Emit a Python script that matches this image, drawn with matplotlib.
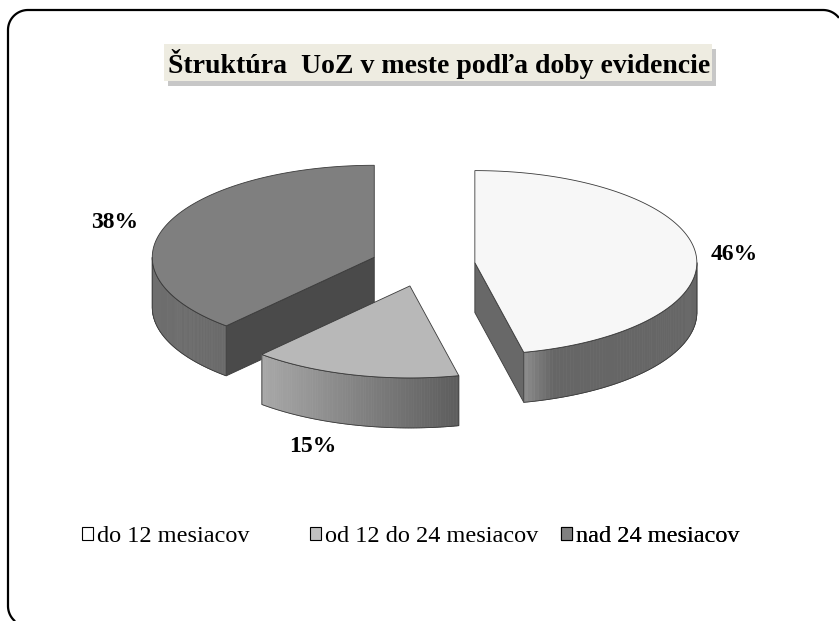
import numpy as np
import matplotlib
matplotlib.use("Agg")
import matplotlib.pyplot as plt
from matplotlib.patches import Polygon, Rectangle, Patch

# data
categories = ["do 12 mesiacov", "od 12 do 24 mesiacov", "nad 24 mesiacov"]
values = [46, 15, 38]
pct_labels = ["46%", "15%", "38%"]
title = "Štruktúra  UoZ v meste podľa doby evidencie"

# styles
top_colors = ["#F7F7F7", "#B8B8B8", "#7F7F7F"]
side_colors = [("#8C8C8C", "#666666"), ("#A8A8A8", "#5C5C5C"), ("#6E6E6E", "#6A6A6A")]
cut_colors = ["#686868", "#6A6A6A", "#4A4A4A"]
legend_colors = ["#FFFFFF", "#C0C0C0", "#808080"]
edge = "#3A3A3A"

plt.rcParams['font.family'] = ['Liberation Serif', 'DejaVu Serif']

fig = plt.figure(figsize=(8.39, 6.21), dpi=100)
ax = fig.add_axes([0, 0, 1, 1])
ax.set_xlim(0, 839)
ax.set_ylim(621, 0)
ax.axis('off')

# pie geometry (pixels)
cx, cy = 423, 265
a, b = 222, 92
depth = 50
explode = 0.235


def pt(ox, oy, th, r=1.0, dz=0.0):
    return (ox + r * a * np.sin(th), oy - r * b * np.cos(th) + dz)


def lerp_col(c1, c2, t):
    c1 = np.array(matplotlib.colors.to_rgb(c1))
    c2 = np.array(matplotlib.colors.to_rgb(c2))
    return tuple(c1 + (c2 - c1) * t)


fr = np.array(values, dtype=float) / sum(values)
ends = np.cumsum(fr) * 2 * np.pi
starts = ends - fr * 2 * np.pi

slices = []
for i in range(len(values)):
    mid = (starts[i] + ends[i]) / 2
    ox, oy = pt(cx, cy, mid, explode)
    slices.append((oy, i, ox))
slices.sort()

for oy, i, ox in slices:
    s, e = starts[i], ends[i]
    # cut faces
    for th, visible in ((s, np.sin(s) < -1e-6), (e, np.sin(e) > 1e-6)):
        if visible:
            p1 = (ox, oy)
            p2 = pt(ox, oy, th)
            face = [p1, p2, (p2[0], p2[1] + depth), (p1[0], p1[1] + depth)]
            ax.add_patch(Polygon(face, closed=True, fc=cut_colors[i], ec=edge, lw=0.6))
    # curved side (front part only)
    lo, hi = max(s, np.pi / 2), min(e, 3 * np.pi / 2)
    if hi > lo:
        th = np.linspace(lo, hi, 80)
        xs = [pt(ox, oy, t)[0] for t in th]
        xmin, xmax = min(xs), max(xs)
        for k in range(len(th) - 1):
            q1, q2 = pt(ox, oy, th[k]), pt(ox, oy, th[k + 1])
            t = ((q1[0] + q2[0]) / 2 - xmin) / max(xmax - xmin, 1)
            if i == 0:
                t = min(1.0, t * 6)
            col = lerp_col(side_colors[i][0], side_colors[i][1], t)
            quad = [q1, q2, (q2[0], q2[1] + depth), (q1[0], q1[1] + depth)]
            ax.add_patch(Polygon(quad, closed=True, fc=col, ec=col, lw=0.5))
        rim = [pt(ox, oy, t) for t in th]
        rim_b = [(x, y + depth) for x, y in rim]
        outline = rim + rim_b[::-1]
        ax.add_patch(Polygon(outline, closed=True, fill=False, ec=edge, lw=0.6))
    # top
    th = np.linspace(s, e, 120)
    top = [(ox, oy)] + [pt(ox, oy, t) for t in th]
    ax.add_patch(Polygon(top, closed=True, fc=top_colors[i], ec=edge, lw=0.6))

# percentage labels
label_pos = [(734, 255), (313, 447), (115, 222)]
for (x, y), txt in zip(label_pos, pct_labels):
    ax.text(x, y, txt, ha='center', va='center', fontsize=17, fontweight='bold')

# title box with shadow
ax.add_patch(Rectangle((168, 49), 548, 37, fc="#9A9A9A", ec='none', alpha=0.55))
ax.add_patch(Rectangle((164, 44), 548, 37, fc="#EEECE1", ec='none'))
ax.text(439, 64, title, ha='center', va='center', fontsize=20, fontweight='bold')

# legend
legend_x = [82, 310, 561]
for x, lab, col in zip(legend_x, categories, legend_colors):
    h = Patch(facecolor=col, edgecolor='black', linewidth=0.8)
    leg = ax.legend(handles=[h], labels=[lab], loc='center left',
                    bbox_to_anchor=(x, 537), bbox_transform=ax.transData,
                    frameon=False, fontsize=17.5, handlelength=0.45, handleheight=0.45,
                    handletextpad=0.15, borderpad=0, borderaxespad=0)
    ax.add_artist(leg)

# outer frame: only the part that lies inside the picture
x0, y0, x1, y1, r = 8, 10, 843, 626, 20
ang_bl = np.linspace(np.pi / 2, np.pi, 30)      # bottom-left corner
ang_tl = np.linspace(np.pi, 1.5 * np.pi, 30)    # top-left corner
ang_tr = np.linspace(1.5 * np.pi, 2 * np.pi, 30)  # top-right corner
fx = np.concatenate([(x0 + r) + r * np.cos(ang_bl), (x0 + r) + r * np.cos(ang_tl),
                     (x1 - r) + r * np.cos(ang_tr)])
fy = np.concatenate([(y1 - r) + r * np.sin(ang_bl), (y0 + r) + r * np.sin(ang_tl),
                     (y0 + r) + r * np.sin(ang_tr)])
keep = (fx <= 839.5) & (fy <= 621.5)
ax.plot(fx[keep], fy[keep], color='black', lw=1.6, solid_capstyle='butt')

fig.savefig("out.png", dpi=100)
